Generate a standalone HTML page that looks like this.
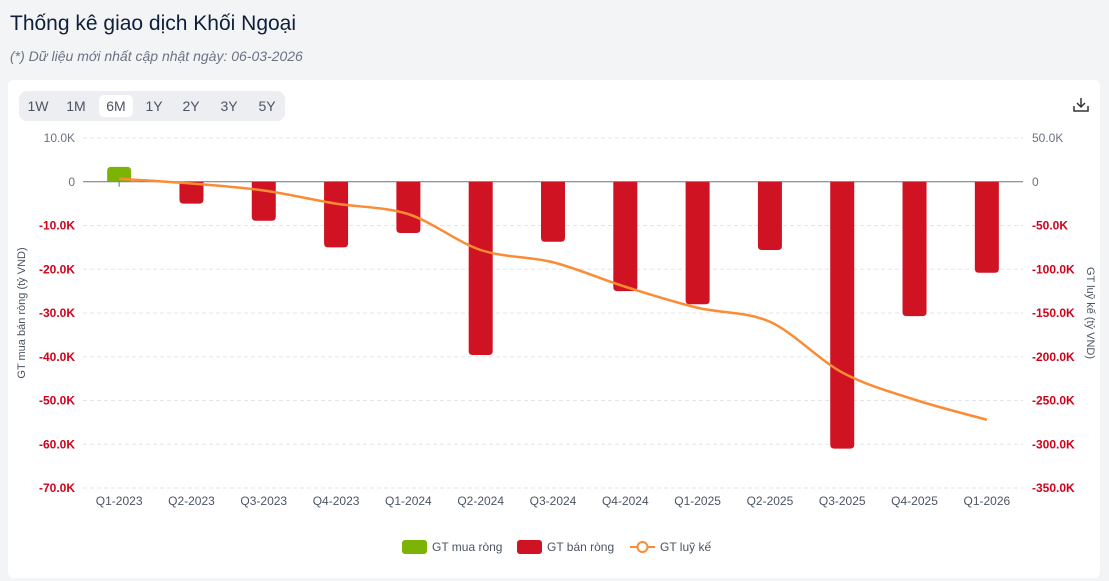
<!DOCTYPE html>
<html><head><meta charset="utf-8">
<style>
body{margin:0;width:1109px;height:581px;background:#f3f4f6;font-family:"Liberation Sans",sans-serif;overflow:hidden;position:relative}
.title{position:absolute;left:10px;top:12px;font-size:21px;color:#0f1f3a;font-weight:500}
.sub{position:absolute;left:10px;top:48px;font-size:14px;font-style:italic;color:#6b7280}
.card{position:absolute;left:8px;top:80px;width:1092px;height:498px;background:#fff;border-radius:6px}
.tabs{position:absolute;left:19px;top:91px;height:30px;width:266px;background:#eceef1;border-radius:8px}
.tab{position:absolute;top:4px;height:22px;line-height:22px;font-size:14px;color:#4b5563;text-align:center;width:34px}
.tab.on{background:#fff;border-radius:5px}
</style></head><body>
<div class="title">Thống kê giao dịch Khối Ngoại</div>
<div class="sub">(*) Dữ liệu mới nhất cập nhật ngày: 06-03-2026</div>
<div class="card"></div>
<div class="tabs">
<div class="tab" style="left:2px">1W</div>
<div class="tab" style="left:40px">1M</div>
<div class="tab on" style="left:80px">6M</div>
<div class="tab" style="left:118px">1Y</div>
<div class="tab" style="left:155px">2Y</div>
<div class="tab" style="left:193px">3Y</div>
<div class="tab" style="left:231px">5Y</div>
</div>
<svg width="1109" height="581" style="position:absolute;left:0;top:0" id="chart">
<g stroke="#333" stroke-width="1.5" fill="none"><path d="M1081 98v9M1077 103l4 4 4-4M1074 106v5h14v-5"/></g>
</svg>
<script>
const categories=["Q1-2023","Q2-2023","Q3-2023","Q4-2023","Q1-2024","Q2-2024","Q3-2024","Q4-2024","Q1-2025","Q2-2025","Q3-2025","Q4-2025","Q1-2026"];
const netValues=[3400,-5000,-8900,-15000,-11700,-39600,-13700,-25000,-28000,-15600,-61000,-30700,-20800];
const cumValues=[3400,-2000,-10000,-25000,-37000,-78000,-92000,-120000,-144000,-160000,-218000,-249000,-272000];
const leftTicks=[10000,0,-10000,-20000,-30000,-40000,-50000,-60000,-70000];
const rightTicks=[50000,0,-50000,-100000,-150000,-200000,-250000,-300000,-350000];
const svg=document.getElementById('chart');const NS='http://www.w3.org/2000/svg';
function mk(t,a,txt){const e=document.createElementNS(NS,t);for(const k in a)e.setAttribute(k,a[k]);if(txt!=null)e.textContent=txt;svg.appendChild(e);return e;}
const X0=83,X1=1023,Y0=138,Y1=488;
const yL=v=>Y0+(10000-v)/80000*(Y1-Y0);
const yR=v=>Y0+(50000-v)/400000*(Y1-Y0);
const bw=(X1-X0)/categories.length;
const xc=i=>X0+bw*(i+0.5);
const fmt=v=>v===0?'0':(v/1000).toFixed(1)+'K';
leftTicks.forEach((v,i)=>{
 const y=yL(v);
 if(v!==0){const g=mk('line',{x1:X0,x2:X1,y1:y,y2:y,stroke:'#e3e5ec','stroke-dasharray':'4 3'});}
 const t=mk('text',{x:75,y:y+4,'text-anchor':'end','font-size':12,fill:v<0?'#d0021b':'#6b7280','font-weight':v<0?'bold':'normal'},fmt(v));
 
});
rightTicks.forEach(v=>{
 const t=mk('text',{x:1032,y:yR(v)+4,'font-size':12,fill:v<0?'#d0021b':'#6b7280','font-weight':v<0?'bold':'normal'},fmt(v));
 
});
const ax=mk('line',{x1:X0,x2:X1,y1:yL(0),y2:yL(0),stroke:'#6b7280'});

categories.forEach((c,i)=>{
 const t=mk('text',{x:xc(i),y:505,'text-anchor':'middle','font-size':12,fill:'#4b5563'},c);
 
 const v=netValues[i],w=24,x=xc(i)-w/2,y0=yL(0),y=yL(v),h=Math.abs(y-y0),r=Math.min(4,h/2);
 let d;
 if(v>=0)d=`M${x} ${y0}V${y+r}Q${x} ${y} ${x+r} ${y}H${x+w-r}Q${x+w} ${y} ${x+w} ${y+r}V${y0}Z`;
 else d=`M${x} ${y0}V${y-r}Q${x} ${y} ${x+r} ${y}H${x+w-r}Q${x+w} ${y} ${x+w} ${y-r}V${y0}Z`;
 const b=mk('path',{d,fill:v>=0?'#7cb305':'#cf1322'});
 
});
const tk=mk('line',{x1:xc(0),x2:xc(0),y1:yL(0),y2:yL(0)+5,stroke:'#6b7280'});

const pts=cumValues.map((v,i)=>[xc(i),yR(v)]);
let d=`M${pts[0][0]} ${pts[0][1]}`;
for(let i=0;i<pts.length-1;i++){const p0=pts[Math.max(0,i-1)],p1=pts[i],p2=pts[i+1],p3=pts[Math.min(pts.length-1,i+2)];const k=0.16;
 d+=`C${p1[0]+(p2[0]-p0[0])*k} ${p1[1]+(p2[1]-p0[1])*k} ${p2[0]-(p3[0]-p1[0])*k} ${p2[1]-(p3[1]-p1[1])*k} ${p2[0]} ${p2[1]}`;}
const ln=mk('path',{d,fill:'none',stroke:'#fa8c35','stroke-width':2.5});

const yl=mk('text',{transform:'translate(25,313) rotate(-90)','text-anchor':'middle','font-size':11,fill:'#4b5563'},'GT mua bán ròng (tỷ VND)');

const yr=mk('text',{transform:'translate(1087,313) rotate(90)','text-anchor':'middle','font-size':11,fill:'#4b5563'},'GT luỹ kế (tỷ VND)');

// legend
const r1=mk('rect',{x:402,y:540,width:25,height:14,rx:3,fill:'#7cb305'});
const t1=mk('text',{x:432,y:551,'font-size':12,fill:'#4b5563'},'GT mua ròng');
const r2=mk('rect',{x:517,y:540,width:25,height:14,rx:3,fill:'#cf1322'});
const t2=mk('text',{x:547,y:551,'font-size':12,fill:'#4b5563'},'GT bán ròng');
const l3=mk('line',{x1:630,x2:655,y1:547,y2:547,stroke:'#fa8c35','stroke-width':2});
const c3=mk('circle',{cx:642.5,cy:547,r:5,fill:'#fff',stroke:'#fa8c35','stroke-width':2});
const t3=mk('text',{x:660,y:551,'font-size':12,fill:'#4b5563'},'GT luỹ kế');
</script>
</body></html>
